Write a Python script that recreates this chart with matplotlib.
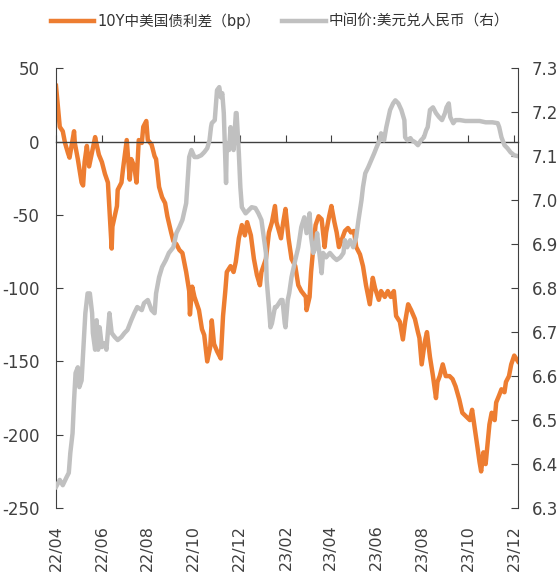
import pandas as pd
import matplotlib.pyplot as plt
import matplotlib.dates as mdates
from matplotlib import font_manager

# 10Y China-US bond spread (bp), left axis
spread_dates = [
  "2022-04-01", "2022-04-06", "2022-04-10", "2022-04-13", "2022-04-17", "2022-04-19", "2022-04-25", "2022-04-26",
  "2022-04-30", "2022-05-05", "2022-05-07", "2022-05-09", "2022-05-12", "2022-05-15", "2022-05-19", "2022-05-23",
  "2022-05-25", "2022-05-28", "2022-06-01", "2022-06-05", "2022-06-09", "2022-06-11", "2022-06-14", "2022-06-15",
  "2022-06-18", "2022-06-21", "2022-06-22", "2022-06-27", "2022-06-29", "2022-07-04", "2022-07-05", "2022-07-08",
  "2022-07-10", "2022-07-14", "2022-07-17", "2022-07-20", "2022-07-24", "2022-07-26", "2022-07-30", "2022-08-01",
  "2022-08-06", "2022-08-10", "2022-08-12", "2022-08-16", "2022-08-20", "2022-08-24", "2022-08-27", "2022-09-01",
  "2022-09-04", "2022-09-08", "2022-09-12", "2022-09-16", "2022-09-21", "2022-09-25", "2022-09-26", "2022-09-29",
  "2022-10-02", "2022-10-08", "2022-10-12", "2022-10-15", "2022-10-19", "2022-10-23", "2022-10-25", "2022-10-28",
  "2022-11-01", "2022-11-06", "2022-11-09", "2022-11-12", "2022-11-14", "2022-11-19", "2022-11-23", "2022-11-26",
  "2022-11-30", "2022-12-04", "2022-12-08", "2022-12-11", "2022-12-16", "2022-12-20", "2022-12-24", "2022-12-28",
  "2022-12-30", "2023-01-05", "2023-01-09", "2023-01-13", "2023-01-17", "2023-01-19", "2023-01-25", "2023-01-28",
  "2023-01-31", "2023-02-04", "2023-02-08", "2023-02-13", "2023-02-17", "2023-02-21", "2023-02-27", "2023-02-28",
  "2023-03-04", "2023-03-06", "2023-03-09", "2023-03-12", "2023-03-16", "2023-03-20", "2023-03-24", "2023-03-26",
  "2023-03-30", "2023-04-02", "2023-04-06", "2023-04-09", "2023-04-12", "2023-04-15", "2023-04-20", "2023-04-24",
  "2023-04-28", "2023-05-02", "2023-05-05", "2023-05-10", "2023-05-14", "2023-05-18", "2023-05-23", "2023-05-27",
  "2023-05-30", "2023-06-04", "2023-06-07", "2023-06-12", "2023-06-16", "2023-06-20", "2023-06-24", "2023-06-27",
  "2023-07-02", "2023-07-06", "2023-07-09", "2023-07-13", "2023-07-17", "2023-07-22", "2023-07-26", "2023-07-28",
  "2023-07-31", "2023-08-04", "2023-08-07", "2023-08-11", "2023-08-15", "2023-08-19", "2023-08-21", "2023-08-24",
  "2023-08-28", "2023-09-01", "2023-09-06", "2023-09-10", "2023-09-14", "2023-09-19", "2023-09-23", "2023-09-27",
  "2023-10-03", "2023-10-06", "2023-10-10", "2023-10-13", "2023-10-16", "2023-10-18", "2023-10-21", "2023-10-24",
  "2023-10-26", "2023-10-29", "2023-11-01", "2023-11-05", "2023-11-07", "2023-11-11", "2023-11-14", "2023-11-18",
  "2023-11-20", "2023-11-24", "2023-11-27", "2023-12-01", "2023-12-06",
]
spread_bp = [
  38, 10, 7, -1, -8, -11, 7, -1,
  -12, -28, -30, -14, -3, -17, -7, 3,
  -2, -9, -14, -22, -28, -46, -73, -58,
  -51, -44, -33, -28, -19, 1, -6, -26,
  -12, -17, -28, 1, -1, 10, 14, 1,
  -2, -10, -12, -31, -38, -42, -51, -62,
  -68, -70, -74, -76, -89, -102, -118, -99,
  -106, -115, -128, -132, -150, -140, -122, -138,
  -143, -148, -119, -102, -89, -85, -89, -82,
  -66, -57, -64, -55, -64, -80, -91, -98,
  -89, -80, -62, -55, -44, -55, -66, -55,
  -46, -66, -80, -85, -98, -102, -106, -115,
  -106, -89, -72, -57, -51, -53, -72, -62,
  -51, -44, -55, -62, -72, -68, -61, -59,
  -62, -61, -72, -77, -85, -98, -111, -93,
  -100, -108, -102, -106, -102, -106, -102, -119,
  -123, -135, -123, -111, -115, -121, -130, -134,
  -152, -137, -130, -147, -160, -175, -164, -160,
  -152, -160, -160, -162, -167, -176, -185, -187,
  -190, -183, -197, -208, -219, -225, -212, -220,
  -209, -193, -185, -190, -178, -173, -169, -171,
  -164, -160, -152, -146, -150,
]

# USD/CNY central parity, right axis
fx_dates = [
  "2022-04-01", "2022-04-06", "2022-04-10", "2022-04-15", "2022-04-18", "2022-04-20", "2022-04-23", "2022-04-25",
  "2022-04-27", "2022-04-30", "2022-05-02", "2022-05-05", "2022-05-07", "2022-05-10", "2022-05-13", "2022-05-16",
  "2022-05-19", "2022-05-20", "2022-05-23", "2022-05-25", "2022-05-27", "2022-05-29", "2022-06-01", "2022-06-05",
  "2022-06-07", "2022-06-11", "2022-06-14", "2022-06-18", "2022-06-22", "2022-06-27", "2022-07-01", "2022-07-05",
  "2022-07-10", "2022-07-14", "2022-07-18", "2022-07-24", "2022-07-27", "2022-08-01", "2022-08-06", "2022-08-10",
  "2022-08-12", "2022-08-16", "2022-08-20", "2022-08-25", "2022-08-29", "2022-09-04", "2022-09-08", "2022-09-12",
  "2022-09-16", "2022-09-21", "2022-09-23", "2022-09-25", "2022-09-28", "2022-10-02", "2022-10-06", "2022-10-11",
  "2022-10-15", "2022-10-19", "2022-10-22", "2022-10-24", "2022-10-25", "2022-10-29", "2022-11-01", "2022-11-04",
  "2022-11-06", "2022-11-08", "2022-11-10", "2022-11-13", "2022-11-14", "2022-11-17", "2022-11-19", "2022-11-21",
  "2022-11-23", "2022-11-26", "2022-11-27", "2022-11-30", "2022-12-02", "2022-12-04", "2022-12-09", "2022-12-13",
  "2022-12-17", "2022-12-22", "2022-12-26", "2022-12-30", "2023-01-05", "2023-01-06", "2023-01-09", "2023-01-11",
  "2023-01-13", "2023-01-17", "2023-01-19", "2023-01-25", "2023-01-27", "2023-01-30", "2023-01-31", "2023-02-03",
  "2023-02-05", "2023-02-08", "2023-02-13", "2023-02-17", "2023-02-21", "2023-02-25", "2023-02-28", "2023-03-04",
  "2023-03-06", "2023-03-09", "2023-03-12", "2023-03-14", "2023-03-18", "2023-03-20", "2023-03-22", "2023-03-26",
  "2023-03-31", "2023-04-05", "2023-04-09", "2023-04-14", "2023-04-18", "2023-04-20", "2023-04-23", "2023-04-27",
  "2023-05-01", "2023-05-05", "2023-05-08", "2023-05-12", "2023-05-14", "2023-05-17", "2023-05-21", "2023-05-25",
  "2023-05-29", "2023-06-01", "2023-06-05", "2023-06-07", "2023-06-11", "2023-06-14", "2023-06-19", "2023-06-23",
  "2023-06-26", "2023-06-30", "2023-07-04", "2023-07-08", "2023-07-09", "2023-07-12", "2023-07-16", "2023-07-18",
  "2023-07-22", "2023-07-26", "2023-07-30", "2023-08-03", "2023-08-06", "2023-08-08", "2023-08-11", "2023-08-15",
  "2023-08-19", "2023-08-23", "2023-08-27", "2023-08-31", "2023-09-02", "2023-09-05", "2023-09-07", "2023-09-11",
  "2023-09-14", "2023-09-20", "2023-09-27", "2023-10-06", "2023-10-16", "2023-10-24", "2023-11-02", "2023-11-09",
  "2023-11-11", "2023-11-14", "2023-11-18", "2023-11-22", "2023-11-26", "2023-12-01", "2023-12-06",
]
usd_cny = [
  6.348, 6.364, 6.352, 6.370, 6.380, 6.425, 6.470, 6.545,
  6.607, 6.620, 6.575, 6.590, 6.652, 6.743, 6.788, 6.788,
  6.743, 6.698, 6.660, 6.727, 6.660, 6.711, 6.666, 6.675,
  6.660, 6.743, 6.698, 6.689, 6.682, 6.689, 6.698, 6.705,
  6.727, 6.743, 6.757, 6.750, 6.766, 6.773, 6.750, 6.743,
  6.788, 6.825, 6.848, 6.864, 6.880, 6.893, 6.925, 6.939,
  6.955, 6.993, 7.045, 7.098, 7.114, 7.098, 7.098, 7.102,
  7.109, 7.118, 7.136, 7.166, 7.175, 7.182, 7.250, 7.257,
  7.234, 7.243, 7.198, 7.039, 7.130, 7.114, 7.166, 7.136,
  7.114, 7.198, 7.198, 7.107, 7.030, 6.984, 6.970, 6.977,
  6.984, 6.982, 6.970, 6.955, 6.880, 6.818, 6.757, 6.711,
  6.720, 6.757, 6.757, 6.773, 6.773, 6.720, 6.711, 6.773,
  6.789, 6.825, 6.864, 6.893, 6.939, 6.961, 6.925, 6.970,
  6.916, 6.880, 6.893, 6.925, 6.864, 6.834, 6.880, 6.870,
  6.880, 6.870, 6.864, 6.870, 6.880, 6.909, 6.893, 6.909,
  6.893, 6.916, 6.955, 7.000, 7.030, 7.061, 7.075, 7.091,
  7.107, 7.120, 7.136, 7.152, 7.136, 7.166, 7.205, 7.220,
  7.227, 7.220, 7.205, 7.182, 7.143, 7.136, 7.141, 7.136,
  7.132, 7.125, 7.136, 7.143, 7.159, 7.166, 7.205, 7.211,
  7.198, 7.189, 7.182, 7.198, 7.211, 7.220, 7.189, 7.175,
  7.182, 7.182, 7.180, 7.180, 7.180, 7.177, 7.177, 7.175,
  7.166, 7.143, 7.125, 7.118, 7.109, 7.102, 7.100,
]

tick_months = ["2022-04-01", "2022-06-01", "2022-08-01", "2022-10-01", "2022-12-01", "2023-02-01",
               "2023-04-01", "2023-06-01", "2023-08-01", "2023-10-01", "2023-12-01"]
left_ticks = [50, 0, -50, -100, -150, -200, -250]
right_ticks = [7.3, 7.2, 7.1, 7.0, 6.9, 6.8, 6.7, 6.6, 6.5, 6.4, 6.3]

installed = {f.name for f in font_manager.fontManager.ttflist}
base = 'Liberation Sans Narrow' if 'Liberation Sans Narrow' in installed else 'DejaVu Sans'
plt.rcParams['font.family'] = [base, 'Noto Sans CJK SC']
plt.rcParams['axes.unicode_minus'] = False

ORANGE = '#ED7D31'
GRAY = '#C0C0C0'
AXC = '#404040'

x1 = pd.to_datetime(spread_dates)
x2 = pd.to_datetime(fx_dates)

fig = plt.figure(figsize=(5.6, 5.78), dpi=100)
ax = fig.add_axes([0.1, 0.121, 0.825, 0.761])
ax2 = ax.twinx()

l1, = ax.plot(x1, spread_bp, color=ORANGE, lw=3.2, solid_joinstyle='round', label='10Y中美国债利差（bp）')
l2, = ax2.plot(x2, usd_cny, color=GRAY, lw=3.2, solid_joinstyle='round', label='中间价:美元兑人民币（右）')

ax.set_ylim(-250, 50)
ax2.set_ylim(6.3, 7.3)
ax.set_xlim(x1[0], x1[-1])

ax.set_yticks(left_ticks)
ax.set_yticklabels([str(v) for v in left_ticks])
ax2.set_yticks(right_ticks)
ax2.set_yticklabels([f'{v:.1f}' for v in right_ticks])

# x axis line sits at zero, ticks point up from it
ax.spines['bottom'].set_position(('data', 0))
ax.spines['bottom'].set_color(AXC)
ax.spines['bottom'].set_linewidth(1.0)
ticks = pd.to_datetime(tick_months)
ax.set_xticks(ticks)
ax.tick_params(axis='x', direction='in', length=5, color=AXC, labelbottom=False)

# labels at the bottom
sec = ax.secondary_xaxis('bottom')
sec.set_xticks(ticks)
sec.xaxis.set_major_formatter(mdates.DateFormatter('%y/%m'))
sec.tick_params(axis='x', length=0, labelsize=11.5, labelcolor=AXC, rotation=90, pad=12)
sec.spines['bottom'].set_visible(False)

for a in (ax, ax2):
  a.spines['top'].set_visible(False)
ax.spines['right'].set_visible(False)
ax2.spines['left'].set_visible(False)
ax2.spines['bottom'].set_visible(False)
ax.spines['left'].set_color(AXC)
ax2.spines['right'].set_color(AXC)

ax.tick_params(axis='y', direction='in', length=5, color=AXC, labelsize=12, labelcolor=AXC, pad=12)
ax2.tick_params(axis='y', direction='in', length=5, color=AXC, labelsize=12, labelcolor=AXC, pad=10)

fig.legend(handles=[l1, l2], loc='upper center', bbox_to_anchor=(0.5, 1.0), ncol=2, frameon=False,
           fontsize=10.5, handlelength=3.0, handletextpad=0.2, columnspacing=1.5, labelcolor='#333333')

fig.savefig('out.png', dpi=100)
